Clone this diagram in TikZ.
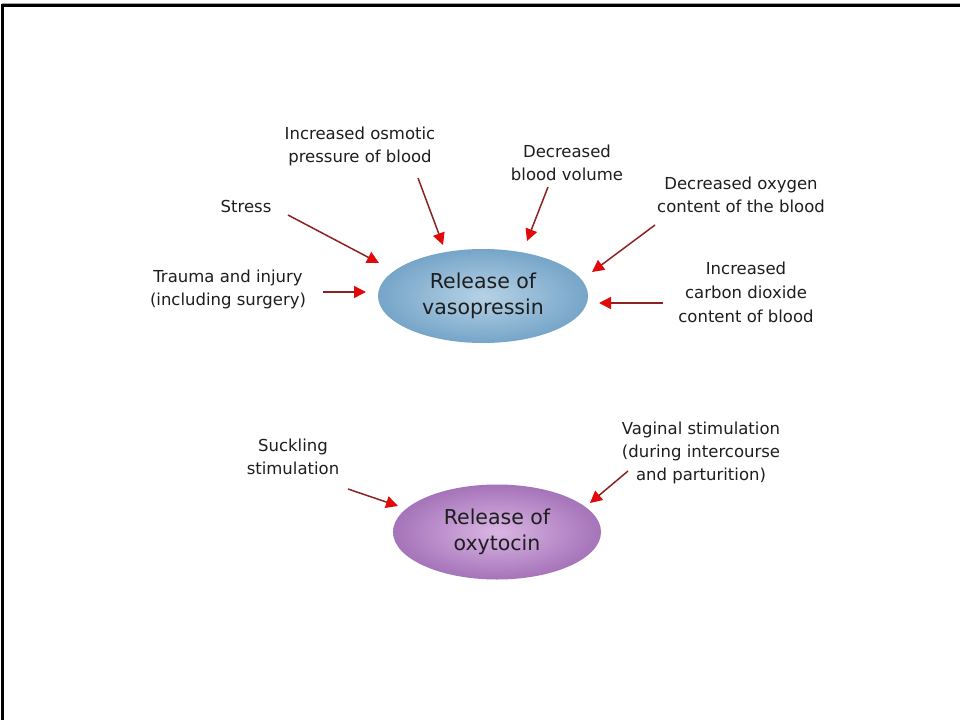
\documentclass[tikz,border=0pt]{standalone}
\usepackage{fontspec}
\setmainfont{DejaVu Sans}
\usetikzlibrary{arrows.meta,shapes.geometric,shadings}
\definecolor{txt}{RGB}{30,30,30}
\definecolor{shaft}{RGB}{140,35,35}
\definecolor{tipred}{RGB}{225,10,10}
\definecolor{vin}{RGB}{182,210,230}
\definecolor{vout}{RGB}{118,165,200}
\definecolor{oin}{RGB}{218,182,228}
\definecolor{oout}{RGB}{165,115,185}
\tikzset{
  lbl/.style={text=txt, align=center, inner sep=0pt, font=\fontsize{16.5}{23}\selectfont},
  big/.style={ellipse, inner sep=0pt, text=txt, align=center, font=\fontsize{20.5}{26}\selectfont},
  cause/.style={draw=shaft, line width=1.5pt, -{Triangle[length=12pt,width=12pt,color=tipred]}},
  frameline/.style={draw=black}
}
\begin{document}
\begin{tikzpicture}[x=1pt,y=-1pt]
\useasboundingbox (0,0) rectangle (960,720);
\fill[white] (0,0) rectangle (960,720);
% slide frame
\draw[frameline, line width=3pt] (1.5,5.5) -- (960,5.5);
\draw[black!35, line width=1pt] (1.5,3.5) -- (960,3.5);
\draw[frameline, line width=2.5pt] (2.5,4) -- (2.5,720);

% ellipses
\node[big, minimum width=210pt, minimum height=94pt, inner color=vin, outer color=vout] (vaso) at (483,296) {Release of\\vasopressin};
\node[big, minimum width=208pt, minimum height=95pt, inner color=oin, outer color=oout] (oxy) at (497,532) {Release of\\oxytocin};

% labels
\node[lbl] (osm) at (360,146) {Increased osmotic\\pressure of blood};
\node[lbl] (stress) at (246,206) {Stress};
\node[lbl] (trauma) at (228,289) {Trauma and injury\\(including surgery)};
\node[lbl] (bvol) at (567,163) {Decreased\\blood volume};
\node[lbl] (oxyg) at (741,195) {Decreased oxygen\\content of the blood};
\node[lbl, font=\fontsize{16.5}{24}\selectfont] (co2) at (746,292) {Increased\\carbon dioxide\\content of blood};
\node[lbl] (suck) at (293,457) {Suckling\\stimulation};
\node[lbl] (vag) at (701,453) {Vaginal stimulation\\(during intercourse\\and parturition)};

% arrow ends
\coordinate (osmA) at (418,178); \coordinate (osmB) at (443,245);
\coordinate (strA) at (288,215); \coordinate (strB) at (379,263);
\coordinate (traA) at (323,292); \coordinate (traB) at (366,292);
\coordinate (bvoA) at (548,187); \coordinate (bvoB) at (527,241);
\coordinate (oxgA) at (655,225); \coordinate (oxgB) at (592,272);
\coordinate (coA) at (663,303); \coordinate (coB) at (599,303);
\coordinate (sucA) at (348,489); \coordinate (sucB) at (398,506);
\coordinate (vagA) at (628,471); \coordinate (vagB) at (590,503);

\draw[cause] (osmA) -- (osmB);
\draw[cause] (strA) -- (strB);
\draw[cause] (traA) -- (traB);
\draw[cause] (bvoA) -- (bvoB);
\draw[cause] (oxgA) -- (oxgB);
\draw[cause] (coA) -- (coB);
\draw[cause] (sucA) -- (sucB);
\draw[cause] (vagA) -- (vagB);
\end{tikzpicture}
\end{document}
